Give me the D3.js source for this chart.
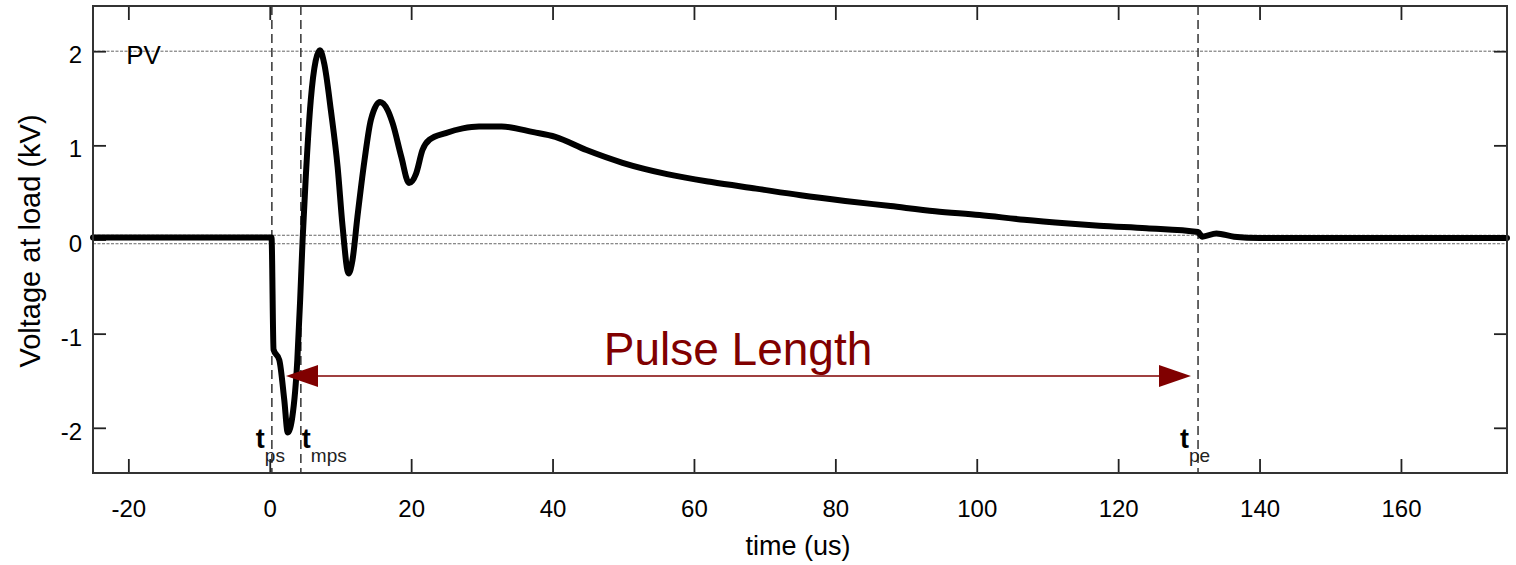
<!DOCTYPE html>
<html>
<head>
<meta charset="utf-8">
<script src="https://cdn.jsdelivr.net/npm/d3@7"></script>
<style>
  html, body { margin: 0; padding: 0; background: #fff; }
  svg { display: block; font-family: "Liberation Sans", Arial, Helvetica, sans-serif; }
</style>
</head>
<body>
<svg id="chart" width="1516" height="565"></svg>
<script>
// ---- data ----
const timeUs = [-25, -20, -10, 0, 0.25, 0.54, 1.35, 2.05, 2.55, 3.2, 3.9, 4.3, 4.65, 5.1, 5.8, 6.5, 7.1, 7.7, 8.65, 9.6, 10.3, 11.15, 11.7, 12.4, 13.4, 14.3, 15.6, 16.7, 17.4, 18.6, 19.7, 20.7, 21.6, 22.6, 24.9, 27.3, 29.6, 32.8, 37.3, 40.4, 44.8, 49.9, 56.2, 62.5, 68.8, 75.1, 81.4, 87.8, 94.1, 100.4, 106.7, 113, 117.3, 124, 131.3, 131.9, 133.9, 136.4, 140, 150, 160, 175];
const voltageKv = [0.02, 0.02, 0.02, 0.02, 0.02, -1.17, -1.28, -1.70, -2.05, -1.88, -1.28, -0.64, 0.0, 0.67, 1.48, 1.90, 2.01, 1.87, 1.37, 0.77, 0.14, -0.36, -0.22, 0.24, 0.84, 1.27, 1.46, 1.37, 1.23, 0.88, 0.60, 0.70, 0.95, 1.06, 1.13, 1.18, 1.20, 1.20, 1.14, 1.09, 0.95, 0.815, 0.695, 0.61, 0.54, 0.47, 0.41, 0.355, 0.30, 0.26, 0.21, 0.17, 0.146, 0.12, 0.08, 0.03, 0.065, 0.03, 0.015, 0.015, 0.015, 0.015];

const xTicks = [-20, 0, 20, 40, 60, 80, 100, 120, 140, 160];
const yTicks = [-2, -1, 0, 1, 2];
const xDomain = [-25, 175];
const yDomain = [-2.48, 2.48];

const markerTimes = [0.3, 4.4, 131.3];          // t_ps, t_mps, t_pe
const markerMain = ["t", "t", "t"];
const markerSub = ["ps", "mps", "pe"];
const peakLevel = [2.0];                          // PV
const zeroBand = [0.045, -0.045];
const arrowSpan = [2.3, 130.3];
const arrowLevel = -1.45;
const arrowLabel = "Pulse Length";
const xTitle = "time (us)";
const yTitle = "Voltage at load (kV)";
const peakLabel = "PV";

// ---- layout ----
const svg = d3.select("#chart");
const L = 93, R = 1507, T = 6, B = 473;
const x = d3.scaleLinear().domain(xDomain).range([L, R]);
const y = d3.scaleLinear().domain(yDomain).range([B, T]);
const maroon = "#800000";
const markerLabelShift = [-16, 1, -18];   // px offset of each marker label from its line
const fmt = d => String(d);

// dotted reference lines
const hLines = peakLevel.concat(zeroBand);
svg.append("g").selectAll("line").data(hLines).join("line")
  .attr("x1", L).attr("x2", R)
  .attr("y1", d => y(d)).attr("y2", d => y(d))
  .attr("stroke", "#666").attr("stroke-width", 1)
  .attr("stroke-dasharray", "3,1.5");

// dashed vertical markers
svg.append("g").selectAll("line").data(markerTimes).join("line")
  .attr("x1", d => x(d)).attr("x2", d => x(d))
  .attr("y1", T).attr("y2", B)
  .attr("stroke", "#333").attr("stroke-width", 1.5)
  .attr("stroke-dasharray", "9,5");

// axes (ticks pointing inward)
const fontTick = 24;
const gx = svg.append("g").attr("transform", `translate(0,${B})`)
  .call(d3.axisBottom(x).tickValues(xTicks).tickSizeInner(-14).tickSizeOuter(0).tickPadding(27).tickFormat(fmt));
const gxTop = svg.append("g").attr("transform", `translate(0,${T})`)
  .call(d3.axisTop(x).tickValues(xTicks).tickSizeInner(-14).tickSizeOuter(0).tickFormat(""));
const gy = svg.append("g").attr("transform", `translate(${L},0)`)
  .call(d3.axisLeft(y).tickValues(yTicks).tickSizeInner(-13).tickSizeOuter(0).tickPadding(11).tickFormat(fmt));
const gyR = svg.append("g").attr("transform", `translate(${R},0)`)
  .call(d3.axisRight(y).tickValues(yTicks).tickSizeInner(-13).tickSizeOuter(0).tickFormat(""));
[gx, gxTop, gy, gyR].forEach(g => {
  g.select(".domain").remove();
  g.selectAll(".tick line").attr("stroke", "#222").attr("stroke-width", 1.8);
  g.selectAll("text").attr("font-size", fontTick).attr("fill", "#000")
    .attr("font-family", "'Liberation Sans', Arial, sans-serif");
});
gy.selectAll("text").attr("dy", "0.48em");

// waveform
const pts = timeUs.map((t, i) => [t, voltageKv[i]]);
svg.append("path").datum(pts)
  .attr("d", d3.line().x(d => x(d[0])).y(d => y(d[1])).curve(d3.curveMonotoneX))
  .attr("fill", "none").attr("stroke", "#000").attr("stroke-width", 6)
  .attr("stroke-linejoin", "round").attr("stroke-linecap", "round");

// frame
svg.append("rect").attr("x", L).attr("y", T).attr("width", R - L).attr("height", B - T)
  .attr("fill", "none").attr("stroke", "#333").attr("stroke-width", 2);

// PV label
svg.append("text").attr("x", x(-20.3)).attr("y", y(peakLevel[0]) + 13)
  .attr("font-size", 26).attr("fill", "#000").text(peakLabel);

// marker labels
const ml = svg.append("g");
markerTimes.forEach((t, i) => {
  const txt = ml.append("text").attr("x", x(t) + markerLabelShift[i]).attr("y", 448);
  txt.append("tspan").attr("font-size", 27).attr("font-weight", "bold").attr("fill", "#000").text(markerMain[i]);
  txt.append("tspan").attr("font-size", 19).attr("fill", "#222").attr("dy", 14).attr("dx", 0).text(markerSub[i]);
});

// arrow
const ax1 = x(arrowSpan[0]), ax2 = x(arrowSpan[1]), ay = y(arrowLevel);
const headL = 32, headH = 11;
svg.append("line").attr("x1", ax1 + headL - 2).attr("x2", ax2 - headL + 2)
  .attr("y1", ay).attr("y2", ay).attr("stroke", maroon).attr("stroke-width", 1.5);
svg.append("path")
  .attr("d", `M${ax1},${ay} L${ax1 + headL},${ay - headH} L${ax1 + headL},${ay + headH} Z`)
  .attr("fill", maroon);
svg.append("path")
  .attr("d", `M${ax2},${ay} L${ax2 - headL},${ay - headH} L${ax2 - headL},${ay + headH} Z`)
  .attr("fill", maroon);
svg.append("text").attr("x", 738).attr("y", 365).attr("text-anchor", "middle")
  .attr("font-size", 46).attr("fill", maroon).text(arrowLabel);

// axis titles
svg.append("text").attr("x", 798).attr("y", 555).attr("text-anchor", "middle")
  .attr("font-size", 27).attr("fill", "#000").text(xTitle);
svg.append("text").attr("transform", "translate(40,241) rotate(-90)")
  .attr("text-anchor", "middle").attr("font-size", 29).attr("fill", "#000").text(yTitle);
</script>
</body>
</html>
